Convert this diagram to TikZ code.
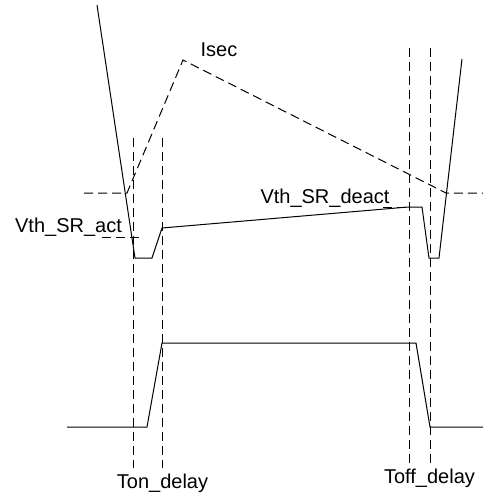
\documentclass[tikz,border=0pt]{standalone}
\usepackage{fontspec}
\setmainfont{Liberation Sans}
\begin{document}
\begin{tikzpicture}[x=1pt,y=-1pt,
  wave/.style={line width=1pt,line join=miter},
  dsh/.style={line width=1pt,dash pattern=on 9pt off 5pt},
  lbl/.style={font=\fontsize{20}{24}\selectfont,anchor=base,inner sep=0pt}]
\useasboundingbox (0,0) rectangle (483,493);
% coordinates of the top waveform
\coordinate (s0) at (97,5);
\coordinate (s1) at (135,258);
\coordinate (s2) at (152,258);
\coordinate (s3) at (162,228);
\coordinate (s4) at (408,207);
\coordinate (s5) at (422,207);
\coordinate (s6) at (429,258);
\coordinate (s7) at (439,258);
\coordinate (s8) at (462,59);
\draw[wave] (s0) -- (s1) -- (s2) -- (s3) -- (s4) -- (s5) -- (s6) -- (s7) -- (s8);
% Isec
\coordinate (i0) at (84,193);
\coordinate (i1) at (127,193);
\coordinate (i2) at (183,60);
\coordinate (i3) at (446,193);
\coordinate (i4) at (483,193);
\draw[dsh] (i0) -- (i1) -- (i2) -- (i3) -- (i4);
% thresholds
\coordinate (a0) at (102,237);
\coordinate (a1) at (143,237);
\draw[dsh] (a0) -- (a1);
\coordinate (d0) at (383,207);
\coordinate (d1) at (408,207);
\draw[dsh] (d0) -- (d1);
% vertical markers
\coordinate (v1t) at (133,138); \coordinate (v1b) at (133,468);
\coordinate (v2t) at (162,138); \coordinate (v2b) at (162,468);
\coordinate (v3t) at (409,48);  \coordinate (v3b) at (409,463);
\coordinate (v4t) at (430,48);  \coordinate (v4b) at (430,463);
\draw[dsh] (v1t) -- (v1b);
\draw[dsh] (v2t) -- (v2b);
\draw[dsh] (v3t) -- (v3b);
\draw[dsh] (v4t) -- (v4b);
% bottom gate waveform
\coordinate (g0) at (67,427);
\coordinate (g1) at (147,427);
\coordinate (g2) at (162,343);
\coordinate (g3) at (416,343);
\coordinate (g4) at (430,427);
\coordinate (g5) at (483,427);
\draw[wave] (g0) -- (g1) -- (g2) -- (g3) -- (g4) -- (g5);
% labels
\node[lbl] (isec) at (219,56) {Isec};
\node[lbl] (act) at (68.5,232) {Vth\_SR\_act};
\node[lbl] (deact) at (325,203) {Vth\_SR\_deact};
\node[lbl] (ton) at (162.5,488) {Ton\_delay};
\node[lbl] (toff) at (429.5,483) {Toff\_delay};
\end{tikzpicture}
\end{document}
